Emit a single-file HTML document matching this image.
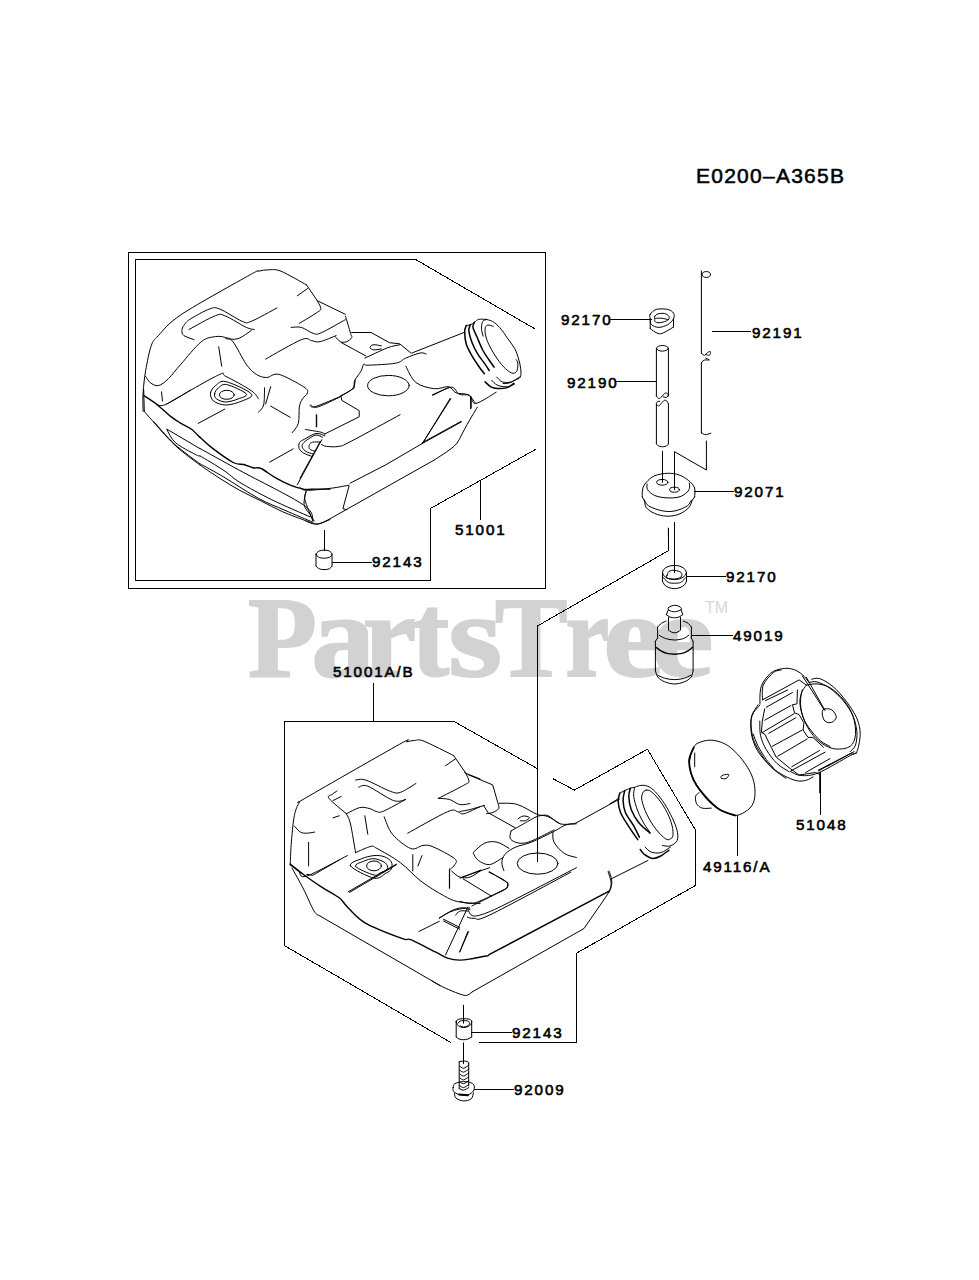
<!DOCTYPE html>
<html><head><meta charset="utf-8">
<style>
html,body{margin:0;padding:0;background:#fff;}
body{width:979px;height:1280px;position:relative;overflow:hidden;}
.wm{position:absolute;-webkit-text-stroke:2px #d2d2d2;font-family:"Liberation Serif",serif;font-weight:bold;color:#d2d2d2;font-size:113.5px;line-height:1;white-space:nowrap;}
.tm{position:absolute;font-family:"Liberation Sans",sans-serif;color:#d8d8d8;font-size:16px;line-height:1;}
svg{position:absolute;left:0;top:0;}
.lb{font-family:"Liberation Sans",sans-serif;font-size:15.2px;letter-spacing:1.85px;fill:#000;stroke:#000;stroke-width:0.6px;}
.ttl{font-family:"Liberation Sans",sans-serif;font-size:21px;letter-spacing:1.25px;fill:#000;stroke:#000;stroke-width:0.55px;}
</style></head><body>

<div class="wm" style="left:248.1px;top:581.8px;transform:scale(0.993,1.0);transform-origin:1.9px 95px">P</div>
<div class="wm" style="left:311.7px;top:581.8px;transform:scale(1.115,1.05);transform-origin:3.8px 95px">a</div>
<div class="wm" style="left:363.1px;top:581.8px;transform:scale(1.060,1.05);transform-origin:2.9px 95px">r</div>
<div class="wm" style="left:412.1px;top:581.8px;transform:scale(0.983,1.04);transform-origin:1.9px 95px">t</div>
<div class="wm" style="left:449.2px;top:581.8px;transform:scale(1.219,1.05);transform-origin:3.8px 95px">s</div>
<div class="wm" style="left:495.1px;top:581.8px;transform:scale(0.957,1.0);transform-origin:1.9px 95px">T</div>
<div class="wm" style="left:565.1px;top:581.8px;transform:scale(0.865,1.05);transform-origin:2.9px 95px">r</div>
<div class="wm" style="left:604.2px;top:581.8px;transform:scale(1.196,1.05);transform-origin:3.8px 95px">e</div>
<div class="wm" style="left:652.2px;top:581.8px;transform:scale(1.241,1.05);transform-origin:3.8px 95px">e</div>
<div class="tm" style="left:705px;top:600px;">TM</div>
<svg width="979" height="1280" viewBox="0 0 979 1280" fill="none" stroke="#000" stroke-width="1" stroke-linejoin="round" stroke-linecap="round">
<g id="labels" transform="translate(0 -0.5)">
<text class="ttl" x="696" y="183">E0200&#8211;A365B</text>
<text class="lb" x="561" y="325">92170</text>
<text class="lb" x="752" y="338">92191</text>
<text class="lb" x="567" y="388">92190</text>
<text class="lb" x="734" y="497">92071</text>
<text class="lb" x="726" y="582">92170</text>
<text class="lb" x="733" y="641.5">49019</text>
<text class="lb" x="796" y="830">51048</text>
<text class="lb" x="703" y="872">49116/A</text>
<text class="lb" x="455" y="535.5">51001</text>
<text class="lb" x="372" y="567.5">92143</text>
<text class="lb" x="333" y="677.5">51001A/B</text>
<text class="lb" x="512" y="1038">92143</text>
<text class="lb" x="514" y="1095.5">92009</text>
</g>
<g id="frames" shape-rendering="crispEdges">
<rect x="128.5" y="252.5" width="417" height="336"/>
<path d="M534.4 328.6 L415.3 259.3 L135.5 259.3 L135.5 580.5 L430.5 580.5 L430.5 508.5 L535.7 449.3"/>
<path d="M453.4 721.1 L284.3 721.1 L284.3 945.5 L450.3 1042.2"/>
<path d="M453.4 721.1 L537.3 768.6"/>
<path d="M553 778.7 L574.4 790.1 L647.4 749.2 L695.5 830.1 L695.5 885.4 L576.7 953.1 L576.7 1042.6 L479 1042.6"/>
<path d="M668.5 528.1 L668.5 550.6 L537.8 625.8 L537.8 861.6"/>
</g>
<g id="leaders" shape-rendering="crispEdges">
<path d="M610 319.3 H652"/>
<path d="M711.6 331 H751"/>
<path d="M615 381.6 H656.4"/>
<path d="M694.4 491.5 H734"/>
<path d="M686.5 576.2 H726"/>
<path d="M692.2 635.4 H732.7"/>
<path d="M820.7 772.6 V815"/>
<path d="M737.5 815.5 V856"/>
<path d="M480.4 480.4 V520"/>
<path d="M332 562.2 H372"/>
<path d="M373.6 683 V721.1"/>
<path d="M471.5 1032.5 H512"/>
<path d="M474 1089.8 H514"/>
<path d="M324 530.3 V551"/>
<path d="M674.2 522.9 V566"/>
</g>
<g id="draw">
<path d="M143.1 411.2 C143.1 408.1 142.6 399.6 143.1 392.8 C143.5 386.0 144.4 378.1 145.7 370.3 C147.1 362.5 149.1 351.6 151.2 345.8 C153.3 340.0 153.3 340.9 158.4 335.6 C163.5 330.3 166.6 324.3 181.9 314.1 C197.2 304.0 237.5 281.9 250.3 274.7 C263.1 267.6 255.4 272.1 258.5 271.2 C261.6 270.4 265.0 269.8 268.7 269.8 C272.4 269.8 274.7 268.7 281.0 271.2 C287.3 273.8 302.2 282.6 306.5 284.9"/>
<path d="M306.5 284.9 L316.7 299.8"/>
<path d="M316.7 299.8 C317.4 301.2 320.6 306.0 320.8 308.0 C321.0 310.1 321.3 309.5 317.7 312.1 C314.2 314.6 302.4 321.5 299.3 323.3"/>
<path d="M297.3 295.8 L307.5 288.6"/>
<path d="M317.7 300.9 L345.3 314.3"/>
<path d="M194.1 339.7 C192.4 339.0 186.0 337.1 183.9 335.6 C181.9 334.1 181.9 332.2 181.9 330.5 C181.9 328.8 182.6 327.2 183.9 325.4 C185.3 323.5 185.8 322.0 190.1 319.2 C194.3 316.5 204.5 310.7 209.5 309.0 C214.4 307.3 214.2 307.0 219.7 309.0 C225.1 311.1 236.9 319.2 242.1 321.3 C247.4 323.3 245.5 323.5 251.3 321.3 C257.1 319.1 272.6 310.2 276.9 308.0"/>
<path d="M189.0 329.5 C193.5 327.1 209.5 317.8 215.6 315.6 C221.7 313.4 220.7 314.2 225.8 316.2 C230.9 318.2 241.5 325.2 246.2 327.4 C251.0 329.6 253.0 329.1 254.4 329.5"/>
<path d="M225.8 338.7 C227.8 338.7 233.8 340.0 238.1 338.7 C242.3 337.3 249.1 331.8 251.3 330.5"/>
<path d="M145.7 376.4 C146.5 377.5 148.1 381.0 150.2 382.6 C152.3 384.1 155.3 386.3 158.4 385.6 C161.5 385.0 164.9 382.1 168.6 378.5 C172.3 374.9 175.4 370.3 180.9 364.2 C186.3 358.1 195.5 346.3 201.3 341.7 C207.1 337.1 211.5 337.3 215.6 336.6 C219.7 335.9 222.9 336.8 225.8 337.6 C228.7 338.5 229.5 337.3 233.0 341.7 C236.4 346.1 242.3 358.7 246.2 364.2 C250.1 369.6 253.0 372.2 256.4 374.4 C259.9 376.6 262.9 377.5 266.7 377.5 C270.4 377.5 272.8 372.9 278.9 374.4 C285.0 375.9 298.7 383.6 303.4 386.7 C308.2 389.7 307.7 390.7 307.5 392.8 C307.3 394.8 303.8 396.5 302.4 398.9 C301.0 401.3 300.0 403.0 299.3 407.1 C298.7 411.2 299.5 419.2 298.3 423.4 C297.1 427.7 293.2 431.1 292.2 432.6"/>
<path d="M218.7 346.8 L221.7 366.2"/>
<path d="M265.6 359.1 C271.6 355.8 293.7 342.7 301.4 339.7 C309.1 336.6 308.5 340.4 311.6 340.7 C314.7 341.0 315.7 342.6 319.8 341.7 C323.9 340.9 333.4 336.6 336.1 335.6"/>
<path d="M291.2 327.4 C292.9 327.4 297.6 326.4 301.4 327.4 C305.1 328.4 310.2 332.7 313.6 333.5 C317.1 334.4 316.5 334.8 321.8 332.5 C327.1 330.2 341.4 321.8 345.3 319.7"/>
<path d="M166.6 404.0 C175.1 399.3 207.8 380.0 217.6 375.4 C227.5 370.8 220.2 373.9 225.8 376.4 C231.4 379.0 245.9 387.0 251.3 390.7 C256.8 394.5 257.3 397.6 258.5 398.9"/>
<path d="M210.5 392.8 C210.8 390.2 213.0 387.5 215.6 385.6 C218.1 383.8 219.8 380.2 225.8 381.6 C231.8 382.9 248.6 390.6 251.3 393.8 C254.1 397.0 246.4 399.1 242.1 401.0 C237.9 402.8 230.6 405.0 225.8 405.0 C221.0 405.0 216.1 403.0 213.5 401.0 C211.0 398.9 210.1 395.3 210.5 392.8Z"/>
<path d="M214.6 393.8 C214.9 391.9 216.6 389.2 218.7 387.7 C220.7 386.1 222.2 383.6 226.8 384.6 C231.4 385.6 244.4 391.4 246.2 393.8 C248.1 396.2 241.5 397.6 238.1 398.9 C234.7 400.3 229.4 402.0 225.8 402.0 C222.2 402.0 218.5 400.3 216.6 398.9 C214.7 397.6 214.2 395.7 214.6 393.8Z"/>
<ellipse cx="226.8" cy="394.8" rx="7.4" ry="4.5" transform="rotate(0 226.8 394.8)"/>
<path d="M161.5 391.8 L162.5 401.0"/>
<path d="M198.2 423.4 L224.8 409.1"/>
<path d="M270.7 406.1 L290.2 417.3"/>
<path d="M264.6 387.7 C264.4 390.6 264.6 401.0 263.6 405.0 C262.6 409.1 259.3 411.0 258.5 412.2"/>
<path d="M270.7 386.7 L265.6 404.0"/>
<path d="M143.7 390.0 L144.3 411.5"/>
<path d="M144.3 411.5 C145.6 413.0 148.3 416.1 152.3 420.6 C156.2 425.1 163.5 433.5 168.2 438.4 C172.9 443.3 175.2 445.6 180.4 450.1 C185.7 454.5 196.7 462.6 199.9 465.1"/>
<path d="M143.7 395.5 C145.9 397.0 152.7 401.2 157.2 404.7 C161.7 408.2 166.8 413.3 170.6 416.4 C174.5 419.4 177.0 420.9 180.4 423.1 C183.9 425.2 188.2 426.9 191.5 429.2 C194.7 431.6 198.5 436.0 199.9 437.3" stroke-width="1.4"/>
<path d="M157.2 404.7 C158.6 404.7 160.1 406.9 165.7 404.5 C171.4 402.0 186.7 392.4 190.9 390.0"/>
<path d="M167.0 429.2 L199.9 448.6"/>
<path d="M167.0 429.8 C168.4 432.0 170.8 438.6 175.5 442.7 C180.2 446.8 191.1 452.1 195.2 454.4 C199.2 456.6 199.1 455.7 199.9 455.9"/>
<path d="M153.5 421.3 C157.0 425.0 166.6 436.8 174.3 443.9 C182.1 451.0 195.7 460.5 199.9 463.8"/>
<path d="M200.0 437.3 C202.0 439.0 206.4 443.7 212.0 447.9 C217.5 452.1 227.9 459.7 233.2 462.5 C238.5 465.3 240.5 463.6 243.8 464.5 C247.1 465.4 250.2 467.1 253.1 467.8 C256.0 468.5 257.5 466.9 261.1 468.5 C264.6 470.0 269.5 474.3 274.4 477.1 C279.2 479.9 285.4 483.1 290.3 485.1 C295.2 487.1 299.4 488.4 303.6 489.1 C307.8 489.7 311.1 489.1 315.5 489.1 C319.9 489.1 327.6 489.1 330.0 489.1" stroke-width="1.4"/>
<path d="M200.0 448.5 C206.6 452.2 222.6 461.1 239.8 470.5 C257.1 479.9 291.4 496.6 303.6 505.0 C315.7 513.4 311.3 518.3 312.9 520.9"/>
<path d="M200.0 455.9 C204.0 458.3 217.3 466.0 223.9 470.5 C230.5 474.9 231.9 477.5 239.8 482.4 C247.8 487.3 260.0 493.9 271.7 499.7 C283.4 505.4 303.8 514.1 310.2 516.9"/>
<path d="M200.0 463.8 C204.0 466.0 214.2 471.3 223.9 477.1 C233.6 482.9 248.2 492.8 258.4 498.3 C268.6 503.9 275.9 506.3 285.0 510.3 C294.1 514.3 308.2 520.3 312.9 522.2"/>
<path d="M200.0 465.1 C203.3 467.4 213.3 474.2 219.9 478.4 C226.6 482.6 233.0 486.6 239.8 490.4 C246.7 494.1 254.0 497.5 261.1 501.0 C268.2 504.5 274.8 508.3 282.3 511.6 C289.9 514.9 300.9 518.9 306.2 520.9 C311.5 522.9 312.0 523.1 314.2 523.6 C316.4 524.0 316.9 524.2 319.5 523.6 C322.1 522.9 328.3 520.3 330.0 519.6"/>
<path d="M306.2 491.7 C306.0 493.0 303.8 494.8 304.9 499.7 C306.0 504.5 311.5 517.4 312.9 520.9"/>
<path d="M305.5 429.5 C307.9 429.9 316.5 431.2 319.8 431.9 C323.0 432.7 324.0 433.6 324.9 434.0"/>
<path d="M316.7 415.2 L316.7 426.4"/>
<path d="M310.6 404.9 C311.8 405.3 312.8 408.3 317.7 407.0 C322.7 405.6 336.5 398.5 340.2 396.8"/>
<path d="M269.7 462.1 L293.2 448.9"/>
<path d="M321.8 439.7 L297.3 484.6"/>
<path d="M345.5 316.2 C346.4 319.1 349.6 330.0 350.6 333.5 C351.7 337.1 352.3 336.3 351.7 337.6 C351.0 339.0 348.4 341.0 346.6 341.7 C344.7 342.4 342.3 342.6 340.4 341.7 C338.6 340.9 336.2 337.5 335.3 336.6"/>
<path d="M341.5 342.7 L366.0 356.0"/>
<path d="M351.7 332.5 L371.1 332.5 L389.5 342.7 L399.7 343.8 L410.9 353.0"/>
<path d="M381.3 345.8 C379.9 345.6 375.0 344.4 373.1 344.8 C371.2 345.1 369.9 347.0 370.1 347.8 C370.2 348.7 372.3 349.7 374.1 349.9 C376.0 350.1 380.1 349.0 381.3 348.9"/>
<path d="M364.9 358.1 C368.7 356.4 381.6 350.1 387.4 347.8 C393.2 345.6 397.6 345.3 399.7 344.8"/>
<path d="M340.4 395.9 C342.5 394.7 350.3 391.3 352.7 388.7 C355.1 386.1 353.4 383.4 354.7 380.5 C356.1 377.6 359.3 374.1 360.9 371.3 C362.4 368.6 362.7 365.2 363.9 364.2 C365.1 363.2 362.7 365.4 368.0 365.2 C373.3 365.0 389.3 364.4 395.6 363.2 C401.9 362.0 401.7 359.8 405.8 358.1 C409.9 356.4 416.7 353.6 420.1 353.0 C423.5 352.3 425.2 353.8 426.2 354.0"/>
<path d="M411.9 353.0 L464.0 332.5"/>
<ellipse cx="388.4" cy="385.6" rx="20.8" ry="10.2" transform="rotate(0 388.4 385.6)"/>
<path d="M405.8 366.2 C407.5 369.0 411.2 378.8 416.0 382.6 C420.8 386.3 429.0 388.0 434.4 388.7 C439.9 389.4 445.1 386.0 448.7 386.7 C452.3 387.3 452.6 391.4 455.9 392.8 C459.1 394.2 464.9 393.1 468.1 394.8 C471.3 396.5 474.1 401.6 475.3 403.0"/>
<path d="M432.4 394.8 L448.7 387.7"/>
<path d="M471.2 396.9 L471.2 408.1"/>
<path d="M422.1 443.9 L450.7 398.9"/>
<path d="M422.1 442.8 L461.0 421.4"/>
<path d="M486.0 319.4 C487.0 319.7 490.2 320.1 492.5 321.4 C494.8 322.8 497.4 324.8 499.8 327.6 C502.3 330.3 504.7 334.3 507.2 337.8 C509.7 341.3 512.6 344.9 514.6 348.4 C516.5 351.9 517.6 355.6 518.6 359.0 C519.7 362.4 520.4 365.8 520.7 368.8 C521.0 371.8 521.3 375.1 520.3 377.0 C519.3 378.9 516.5 379.3 514.6 380.3 C512.6 381.3 510.7 382.6 508.8 383.1 C506.9 383.7 504.1 383.5 503.1 383.5"/>
<path d="M493.3 326.3 C492.4 326.1 489.0 324.7 487.6 325.1 C486.2 325.5 485.4 326.8 485.1 328.8 C484.9 330.8 485.1 334.0 486.0 337.0 C486.8 340.0 488.1 343.1 490.0 346.8 C491.9 350.4 494.8 355.4 497.4 359.0 C500.0 362.7 503.0 366.5 505.6 368.8 C508.2 371.2 511.0 373.1 512.9 373.3 C514.8 373.6 516.2 372.2 517.0 370.5 C517.8 368.8 518.0 364.9 517.8 363.1 C517.7 361.3 516.5 360.4 516.2 359.8"/>
<path d="M483.1 336.1 C482.8 334.9 481.5 331.2 481.5 328.8 C481.4 326.3 481.8 323.0 482.7 321.4 C483.6 319.9 486.1 319.7 486.8 319.4"/>
<path d="M466.3 325.5 C466.1 326.5 464.7 328.1 464.7 331.2 C464.7 334.4 465.0 340.0 466.3 344.3 C467.7 348.7 470.7 353.6 472.9 357.4 C475.1 361.2 477.5 364.5 479.4 367.2 C481.3 369.9 483.5 372.6 484.3 373.7" stroke-width="1.5"/>
<path d="M470.4 324.7 C470.2 325.7 468.5 327.4 468.8 330.4 C469.1 333.4 470.6 338.7 472.1 342.7 C473.6 346.6 475.7 350.7 477.8 354.1 C479.8 357.5 482.4 360.4 484.3 363.1 C486.2 365.8 488.4 369.2 489.2 370.5" stroke-width="1.5"/>
<path d="M474.5 322.3 C474.2 323.1 472.5 324.7 472.9 327.2 C473.3 329.6 475.3 333.2 477.0 337.0 C478.6 340.8 480.8 346.4 482.7 350.0 C484.6 353.7 486.5 356.2 488.4 359.0 C490.3 361.9 493.2 365.8 494.1 367.2" stroke-width="1.5"/>
<path d="M466.3 325.5 C467.0 325.4 469.1 325.3 470.4 324.7 C471.8 324.2 473.2 323.1 474.5 322.3 C475.9 321.4 476.7 319.9 478.6 319.4 C480.5 318.9 484.7 319.4 486.0 319.4"/>
<path d="M485.1 381.9 C486.1 382.7 488.8 385.7 490.9 386.8 C492.9 387.9 494.7 388.3 497.4 388.4 C500.1 388.6 504.5 388.4 507.2 387.6 C509.9 386.8 512.6 384.2 513.7 383.5" stroke-width="1.5"/>
<path d="M491.7 380.3 C492.6 381.1 494.8 384.1 497.4 385.2 C500.0 386.3 504.3 387.0 507.2 386.8 C510.1 386.6 513.3 384.4 514.6 384.0"/>
<path d="M496.6 377.0 C497.5 377.8 499.8 381.1 502.3 381.9 C504.7 382.7 508.4 382.7 511.3 381.9 C514.1 381.1 518.1 377.8 519.5 377.0"/>
<path d="M306.0 521.0 C307.0 521.4 309.9 523.0 312.0 523.5 C314.1 524.0 316.1 524.4 318.4 524.0 C320.7 523.6 324.7 521.5 326.0 521.0"/>
<path d="M326.0 521.0 L434.3 460.0"/>
<path d="M434.3 460.0 C435.7 459.1 440.3 456.1 442.9 454.4 C445.5 452.6 447.6 451.4 450.0 449.5 C452.4 447.6 455.2 445.6 457.2 443.0 C459.2 440.4 460.3 437.1 462.0 434.0 C463.7 430.9 465.5 427.4 467.2 424.4 C468.9 421.4 470.3 418.9 472.0 416.0 C473.7 413.1 476.4 408.7 477.3 407.2"/>
<path d="M300.0 487.3 C301.0 487.8 301.0 490.1 306.1 490.3 C311.2 490.5 323.5 489.1 330.6 488.3 C337.8 487.4 346.0 485.7 349.0 485.2"/>
<path d="M350.1 483.2 L385.8 464.8 L422.6 443.3 L461.4 421.9"/>
<path d="M349.0 486.2 L342.9 508.7 L347.0 509.7"/>
<path d="M306.1 491.3 C305.8 493.6 303.4 500.7 304.1 504.6 C304.8 508.5 308.5 512.1 310.2 514.8 C311.9 517.6 313.6 519.9 314.3 521.0"/>
<path d="M320.4 441.3 L300.0 478.1"/>
<path d="M321.5 444.4 C322.3 444.7 323.7 446.1 326.6 446.4 C329.5 446.7 334.7 447.2 338.8 446.4 C342.9 445.5 340.9 446.6 351.1 441.3 C361.3 436.0 391.9 419.2 400.1 414.7"/>
<path d="M324.5 434.1 L359.2 416.8 L359.2 410.6 L341.9 400.4 L340.9 396.3 L354.1 388.2 L355.2 380.0"/>
<path d="M310.2 405.5 C311.1 405.7 310.2 408.1 315.3 406.6 C320.4 405.0 336.6 398.0 340.9 396.3"/>
<path d="M316.3 414.7 L316.3 427.0"/>
<path d="M422.6 443.3 L450.2 398.4"/>
<path d="M432.8 395.3 C435.9 394.0 446.7 387.3 451.2 387.2 C455.6 387.0 456.3 392.9 459.3 394.3 C462.4 395.7 466.8 393.8 469.6 395.3 C472.3 396.9 471.3 404.0 475.7 403.5 C480.1 403.0 492.7 394.1 496.1 392.3"/>
<path d="M470.6 396.3 L470.6 408.6"/>
<path d="M316.0 554.2 C316.0 553.1 317.9 551.7 319.2 551.0 C320.5 550.3 322.3 550.2 324.0 550.2 C325.7 550.2 328.0 550.3 329.3 551.0 C330.6 551.7 332.0 553.1 332.0 554.2 C332.0 555.3 330.6 556.7 329.3 557.4 C328.0 558.0 325.7 558.2 324.0 558.2 C322.3 558.2 320.5 558.0 319.2 557.4 C317.9 556.7 316.0 555.3 316.0 554.2Z"/>
<path d="M316.0 554.2 L316.0 566.1"/>
<path d="M332.0 554.2 L332.0 566.1"/>
<path d="M316.0 566.1 C316.6 566.6 317.9 568.2 319.2 568.8 C320.5 569.4 322.3 569.6 324.0 569.6 C325.7 569.6 328.0 569.4 329.3 568.8 C330.6 568.2 331.5 566.6 332.0 566.1"/>
<path d="M324.9 435.9 C323.4 435.5 319.4 432.9 316.0 433.5 C312.6 434.0 307.2 437.7 304.5 439.2 C301.8 440.7 300.5 440.9 299.6 442.5 C298.7 444.0 298.5 446.8 299.2 448.6 C299.9 450.4 301.6 451.8 303.7 453.1 C305.8 454.4 310.5 455.8 311.9 456.4"/>
<path d="M322.5 437.2 C321.4 436.8 318.3 434.8 316.0 435.1 C313.6 435.4 310.8 437.4 308.6 438.8 C306.4 440.2 303.9 442.2 302.9 443.7 C301.9 445.2 301.9 446.5 302.5 447.8 C303.0 449.1 304.4 450.4 306.1 451.5 C307.9 452.5 311.6 453.5 312.7 453.9"/>
<path d="M320.0 442.1 C318.8 442.1 314.5 441.7 312.7 442.1 C310.9 442.5 310.0 443.4 309.4 444.5 C308.9 445.6 308.9 447.6 309.4 448.6 C310.0 449.6 311.7 450.2 312.7 450.6 C313.6 451.1 314.7 451.0 315.1 451.1"/>
<path d="M290.2 864.8 C290.4 861.4 290.6 852.6 291.2 844.4 C291.9 836.2 292.9 822.8 294.3 815.8 C295.7 808.8 297.4 805.6 299.4 802.5 C301.5 799.5 289.9 807.1 306.6 797.4 C323.2 787.7 382.8 753.6 399.5 744.3 C416.2 735.0 404.1 742.5 406.7 741.8 C409.2 741.2 411.9 740.5 414.8 740.4 C417.7 740.3 417.6 738.7 424.0 741.2 C430.5 743.8 448.7 753.2 453.6 755.5"/>
<path d="M453.6 755.5 L464.9 771.9"/>
<path d="M464.9 771.9 C465.6 773.4 469.1 778.9 469.0 781.1 C468.8 783.3 469.0 782.3 463.9 785.2 C458.8 788.1 442.6 796.2 438.3 798.4"/>
<path d="M464.9 772.9 L480.2 779.0"/>
<path d="M445.5 765.8 L455.7 758.6"/>
<path d="M337.2 790.9 C336.4 791.5 333.5 793.1 332.1 794.4 C330.7 795.6 326.6 795.2 329.0 798.4 C331.4 801.7 343.5 811.2 346.4 813.8"/>
<path d="M333.1 800.5 L341.3 796.4"/>
<path d="M355.6 780.1 C357.3 780.1 360.0 778.2 365.8 780.1 C371.6 781.9 384.5 789.2 390.3 791.3 C396.1 793.3 396.3 793.6 400.5 792.3 C404.8 791.0 413.3 785.0 415.9 783.5"/>
<path d="M358.7 787.2 C360.2 787.0 362.1 784.0 367.8 786.2 C373.6 788.4 387.1 798.3 393.4 800.5 C399.7 802.7 403.6 799.6 405.6 799.5"/>
<path d="M346.4 813.8 C348.6 812.7 355.8 808.5 359.7 807.6 C363.6 806.8 367.2 808.0 369.9 808.7 C372.6 809.3 373.8 810.9 376.0 811.3 C378.2 811.8 378.2 813.3 383.2 811.3 C388.1 809.3 401.9 801.4 405.6 799.5"/>
<path d="M333.1 817.8 L339.2 815.8"/>
<path d="M294.3 826.0 C295.3 827.0 298.4 831.0 300.4 832.1 C302.5 833.3 304.2 833.2 306.6 833.2 C308.9 833.2 313.4 832.3 314.7 832.1"/>
<path d="M308.6 842.4 L308.6 865.9"/>
<path d="M290.2 864.8 C291.6 865.9 295.7 869.1 298.4 871.0 C301.1 872.8 298.4 878.6 306.6 876.1 C314.7 873.5 340.6 859.0 347.4 855.6"/>
<path d="M346.4 813.8 C347.1 815.5 348.9 817.5 350.5 824.0 C352.0 830.4 354.7 847.8 355.6 852.6"/>
<path d="M355.6 852.6 C358.1 851.6 367.3 847.1 370.9 846.4 C374.5 845.8 372.1 845.8 377.0 848.5 C382.0 851.2 393.2 857.3 400.5 862.8 C407.9 868.2 413.8 875.7 421.0 881.2 C428.1 886.6 437.3 892.1 443.4 895.5 C449.6 898.9 451.6 900.2 457.7 901.6 C463.9 903.0 476.5 903.3 480.2 903.6"/>
<path d="M364.8 815.8 L367.8 834.2"/>
<path d="M384.2 816.8 C385.5 819.7 387.9 828.9 392.4 834.2 C396.8 839.5 405.6 846.6 410.7 848.5 C415.9 850.4 419.3 845.7 423.0 845.4 C426.7 845.2 427.9 844.6 433.2 846.9 C438.5 849.1 451.1 855.7 454.7 858.7 C458.2 861.7 455.3 863.1 454.7 864.8 C454.0 866.5 451.3 868.2 450.6 868.9"/>
<path d="M407.7 833.2 C414.3 829.6 439.2 815.3 447.5 811.7 C455.9 808.1 455.0 811.4 457.7 811.7 C460.5 812.1 460.1 814.6 463.9 813.8 C467.6 812.9 477.5 807.8 480.2 806.6"/>
<path d="M438.3 798.4 C440.2 798.6 446.0 798.4 449.6 799.5 C453.1 800.5 456.4 803.9 459.8 804.6 C463.2 805.2 468.3 803.7 470.0 803.5"/>
<path d="M350.5 865.9 C348.4 862.6 357.8 860.4 361.7 858.7 C365.6 857.0 370.2 856.0 374.0 855.6 C377.7 855.3 381.3 855.6 384.2 856.7 C387.1 857.7 390.1 859.7 391.3 861.8 C392.5 863.8 392.2 867.0 391.3 868.9 C390.5 870.8 389.1 871.5 386.2 873.0 C383.3 874.5 379.9 879.3 374.0 878.1 C368.0 876.9 352.5 869.1 350.5 865.9Z"/>
<path d="M355.6 866.5 C353.9 864.2 360.7 862.4 363.8 861.2 C366.8 859.9 370.4 858.4 374.0 858.7 C377.5 859.0 383.0 861.1 385.2 862.8 C387.4 864.5 388.1 867.2 387.3 868.9 C386.4 870.6 382.3 872.0 380.1 873.0 C377.9 874.0 378.1 876.1 374.0 875.0 C369.9 874.0 357.3 868.8 355.6 866.5Z"/>
<ellipse cx="374.0" cy="865.9" rx="7.4" ry="4.9" transform="rotate(0 374.0 865.9)"/>
<path d="M349.5 892.4 L396.4 864.8"/>
<path d="M412.8 854.6 L412.8 871.0"/>
<path d="M422.0 855.6 L417.9 865.9"/>
<path d="M449.6 868.9 L449.6 888.3"/>
<path d="M451.6 871.0 C453.0 872.0 456.7 876.1 459.8 877.1 C462.8 878.1 466.6 878.1 470.0 877.1 C473.4 876.1 478.5 872.0 480.2 871.0"/>
<path d="M439.3 917.9 C441.7 916.6 449.6 911.5 453.6 909.8 C457.7 908.1 461.1 907.7 463.9 907.7 C466.6 907.7 469.0 909.4 470.0 909.8"/>
<path d="M443.4 921.0 L459.8 929.2"/>
<path d="M468.2 774.7 L492.7 784.9 L497.4 801.3"/>
<path d="M497.4 801.3 C497.6 802.5 499.6 806.6 498.8 808.4 C498.0 810.3 494.7 811.7 492.7 812.5 C490.6 813.4 487.6 813.4 486.6 813.5"/>
<path d="M483.5 805.4 L488.6 813.5"/>
<path d="M460.0 811.5 C461.7 811.2 466.1 810.5 470.2 809.5 C474.3 808.4 482.1 806.1 484.5 805.4"/>
<path d="M489.6 813.5 L515.2 827.8"/>
<path d="M498.8 803.3 C501.9 803.5 510.7 802.5 517.2 804.4 C523.7 806.2 532.5 812.7 537.6 814.6 C542.7 816.4 544.1 814.1 547.8 815.6 C551.6 817.1 555.7 822.4 560.1 823.8 C564.5 825.1 572.0 823.8 574.4 823.8"/>
<path d="M518.2 818.7 C519.1 818.2 521.5 816.2 523.3 816.0 C525.2 815.8 529.1 816.8 529.5 817.6 C529.8 818.4 526.9 820.2 525.4 820.7 C523.8 821.2 521.1 820.7 520.3 820.7"/>
<path d="M511.1 830.9 C513.8 829.4 522.8 824.2 527.4 821.7 C532.0 819.2 535.2 816.8 538.7 816.0 C542.1 815.1 544.3 815.3 547.8 816.6 C551.4 817.9 558.1 822.6 560.1 823.8"/>
<path d="M511.1 830.9 C510.9 832.1 509.4 836.2 510.1 838.1 C510.7 839.9 512.9 841.3 515.2 842.1 C517.4 843.0 520.3 843.5 523.3 843.2 C526.4 842.8 528.4 842.3 533.5 840.1 C538.7 837.9 550.6 831.6 554.0 829.9"/>
<path d="M473.3 852.4 C475.2 850.8 480.6 844.9 484.5 843.2 C488.4 841.5 492.7 841.3 496.8 842.1 C500.9 843.0 507.0 847.3 509.0 848.3"/>
<path d="M473.3 853.4 C474.1 854.6 475.7 858.7 478.4 860.5 C481.1 862.4 485.5 865.1 489.6 864.6 C493.7 864.1 500.7 858.7 502.9 857.5"/>
<ellipse cx="537.6" cy="863.6" rx="20.4" ry="10.6" transform="rotate(0 537.6 863.6)"/>
<path d="M503.9 870.7 C503.6 869.4 501.7 865.3 501.9 862.6 C502.0 859.9 502.7 857.0 504.9 854.4 C507.2 851.8 510.7 849.3 515.2 847.3 C519.6 845.2 525.2 844.7 531.5 842.1 C537.8 839.6 547.2 834.8 553.0 831.9 C558.7 829.0 562.3 826.1 566.2 824.8 C570.1 823.4 574.7 823.9 576.4 823.8"/>
<path d="M553.0 831.9 C553.1 833.6 552.1 838.6 554.0 842.1 C555.8 845.7 560.4 850.8 564.2 853.4 C567.9 855.9 574.4 856.8 576.4 857.5"/>
<path d="M574.4 823.8 L619.3 799.2"/>
<path d="M611.2 878.9 L647.9 860.5"/>
<path d="M576.4 867.7 C565.5 873.3 526.4 893.7 511.1 901.4 C495.8 909.1 491.0 911.3 484.5 913.6 C478.0 916.0 475.0 916.4 472.3 915.7 C469.5 915.0 468.9 910.6 468.2 909.6"/>
<path d="M608.1 871.8 C608.6 873.6 611.0 879.6 611.2 883.0 C611.3 886.4 609.5 890.7 609.1 892.2"/>
<path d="M609.1 891.2 L489.0 954.7" stroke-width="1.5"/>
<path d="M460.0 877.9 L489.6 867.7"/>
<path d="M489.6 871.8 L508.0 883.0 L507.0 888.1 L488.6 897.3"/>
<path d="M463.1 878.9 L491.7 896.3"/>
<path d="M460.0 901.4 C462.0 901.7 467.5 904.1 472.3 903.4 C477.0 902.8 485.9 898.3 488.6 897.3"/>
<path d="M634.5 787.4 C635.3 787.1 637.5 786.0 639.4 785.7 C641.3 785.4 643.6 785.0 646.0 785.7 C648.3 786.4 650.6 787.4 653.3 789.8 C656.0 792.3 659.4 796.3 662.3 800.4 C665.2 804.5 668.2 809.8 670.5 814.3 C672.8 818.8 675.0 823.6 676.2 827.4 C677.4 831.2 678.0 834.6 677.8 837.2 C677.7 839.8 676.9 841.4 675.4 842.9 C673.9 844.4 671.0 845.8 668.8 846.2 C666.7 846.6 663.4 845.5 662.3 845.4"/>
<path d="M646.0 790.2 C647.3 789.9 648.7 789.9 650.9 791.4 C653.0 793.0 656.3 796.1 659.0 799.6 C661.8 803.2 665.0 808.3 667.2 812.7 C669.4 817.0 671.2 821.9 672.1 825.8 C673.1 829.6 673.2 833.4 672.9 835.6 C672.6 837.7 671.7 838.3 670.5 838.8 C669.2 839.4 668.0 840.5 665.6 838.8 C663.1 837.2 658.9 833.1 655.8 829.0 C652.6 824.9 649.1 819.1 646.8 814.3 C644.5 809.6 642.6 804.0 641.9 800.4 C641.2 796.9 642.0 794.8 642.7 793.1 C643.4 791.4 644.6 790.5 646.0 790.2Z"/>
<path d="M619.8 793.1 C619.5 794.4 618.0 798.0 618.2 801.2 C618.3 804.5 618.9 808.5 620.6 812.7 C622.4 816.9 625.9 822.1 628.8 826.6 C631.7 831.1 636.3 837.5 637.8 839.7" stroke-width="1.5"/>
<path d="M624.7 790.6 C624.4 792.3 622.9 796.8 623.1 800.4 C623.2 804.1 623.8 808.5 625.5 812.7 C627.3 816.9 631.4 821.7 633.7 825.8 C636.0 829.8 638.5 835.3 639.4 837.2" stroke-width="1.5"/>
<path d="M630.4 788.2 C630.2 789.5 628.7 792.8 628.8 796.3 C628.9 799.9 629.6 805.1 631.2 809.4 C632.9 813.8 635.5 818.5 638.6 822.5 C641.7 826.4 648.1 831.3 650.0 833.1" stroke-width="1.5"/>
<path d="M634.5 788.2 C634.4 789.5 633.2 792.5 633.7 796.3 C634.2 800.2 636.0 806.4 637.8 811.1 C639.6 815.7 642.3 820.6 644.3 824.1 C646.4 827.7 649.1 830.9 650.0 832.3"/>
<path d="M619.8 793.1 C620.6 792.7 622.9 791.4 624.7 790.6 C626.5 789.8 628.8 788.7 630.4 788.2 C632.1 787.6 633.8 787.5 634.5 787.4"/>
<path d="M640.2 849.5 C640.9 850.3 642.3 852.9 644.3 854.4 C646.4 855.9 649.8 858.2 652.5 858.4 C655.2 858.7 657.9 857.4 660.7 856.0 C663.4 854.6 667.5 851.2 668.8 850.3" stroke-width="1.5"/>
<path d="M645.1 847.0 C646.1 847.8 648.3 851.0 650.9 851.9 C653.4 852.9 657.4 853.5 660.7 852.7 C663.9 851.9 668.8 848.0 670.5 847.0"/>
<path d="M610.0 803.7 L618.2 798.8"/>
<path d="M290.2 864.1 C292.6 866.0 299.4 871.6 304.5 875.3 C309.6 879.1 315.1 882.8 320.9 886.6 C326.6 890.3 334.8 894.4 339.2 897.8 C343.7 901.2 343.0 902.7 347.4 907.0 C351.8 911.2 356.6 918.1 365.8 923.3 C375.0 928.6 395.1 935.9 402.6 938.7 C410.1 941.4 405.3 937.5 410.7 939.7 C416.2 941.9 429.1 948.9 435.3 951.9 C441.4 955.0 443.4 956.7 447.5 958.1 C451.6 959.4 455.5 960.0 459.8 960.1 C464.0 960.2 468.3 959.2 473.1 958.5 C477.8 957.7 485.8 956.1 488.4 955.6" stroke-width="1.4"/>
<path d="M306.6 874.3 L312.7 875.3 L339.2 860.0"/>
<path d="M348.4 891.7 L396.4 864.1"/>
<path d="M439.3 918.2 C441.0 917.2 446.2 913.6 449.6 912.1 C453.0 910.6 456.4 909.7 459.8 909.0 C463.2 908.3 468.3 908.2 470.0 908.0"/>
<path d="M443.4 919.2 L459.8 927.4"/>
<path d="M455.7 915.2 C456.4 914.5 457.7 911.8 459.8 911.1 C461.8 910.4 466.6 911.1 467.9 911.1"/>
<path d="M418.9 931.5 L439.3 921.3"/>
<path d="M467.9 907.0 L445.5 955.0"/>
<path d="M467.9 931.5 L459.8 951.9"/>
<path d="M467.4 917.2 C468.5 917.4 470.4 918.7 474.2 918.3 C477.9 917.9 473.8 922.6 489.9 914.9 C506.0 907.3 557.3 879.4 570.8 872.2"/>
<path d="M488.8 872.2 C491.6 873.7 502.6 878.6 505.6 881.2 C508.6 883.9 509.0 885.5 506.7 888.0 C504.5 890.4 497.9 892.8 492.1 895.8 C486.3 898.8 475.3 904.3 471.9 906.0"/>
<path d="M460.7 877.9 L480.9 870.0"/>
<path d="M449.4 870.0 L449.4 888.0"/>
<path d="M468.5 931.8 L459.6 952.0"/>
<path d="M292.0 868.0 C293.9 871.5 299.8 881.8 303.5 889.0 C307.2 896.2 311.2 906.5 314.0 911.0 C316.8 915.5 319.0 915.2 320.0 916.0"/>
<path d="M320.0 916.0 L440.0 985.5"/>
<path d="M432.0 981.0 C433.3 981.8 436.7 983.8 440.0 985.5 C443.3 987.2 447.8 989.3 452.0 991.0 C456.2 992.7 462.2 995.3 465.5 995.5 C468.8 995.7 470.9 992.6 472.0 992.0"/>
<path d="M472.0 992.0 L584.0 928.5 L603.7 900.0"/>
<path d="M603.7 900.0 C604.8 898.2 609.2 892.3 610.5 889.0 C611.8 885.7 612.0 883.0 611.7 880.0 C611.5 877.0 609.5 872.5 609.0 871.0"/>
<path d="M456.2 1021.5 C456.2 1020.4 457.1 1019.8 458.3 1019.3 C459.6 1018.9 461.6 1018.7 463.5 1018.7 C465.4 1018.7 468.1 1018.9 469.5 1019.3 C470.9 1019.8 471.7 1020.4 471.7 1021.5 C471.7 1022.5 470.9 1024.8 469.5 1025.8 C468.1 1026.8 465.4 1027.5 463.5 1027.5 C461.6 1027.5 459.6 1026.8 458.3 1025.8 C457.1 1024.8 456.2 1022.5 456.2 1021.5Z"/>
<path d="M458.3 1023.2 C458.6 1022.8 459.2 1021.5 460.1 1021.0 C460.9 1020.6 462.2 1020.6 463.5 1020.6 C464.8 1020.6 466.8 1020.6 467.8 1021.0 C468.8 1021.5 469.5 1022.4 469.5 1023.2 C469.5 1024.0 468.8 1025.1 467.8 1025.8 C466.8 1026.4 464.8 1027.1 463.5 1027.1 C462.2 1027.1 460.6 1026.0 460.1 1025.8"/>
<path d="M456.2 1021.5 L456.2 1036.9"/>
<path d="M471.7 1021.5 L471.7 1036.9"/>
<path d="M456.2 1036.9 C456.7 1037.3 458.0 1038.6 459.2 1039.1 C460.4 1039.5 462.1 1039.7 463.5 1039.7 C464.9 1039.7 466.4 1039.5 467.8 1039.1 C469.2 1038.6 471.0 1037.3 471.7 1036.9"/>
<path d="M463.5 1005.2 L463.5 1023.2"/>
<path d="M463.5 1042.9 L463.5 1063.6"/>
<path d="M459.2 1061.8 L459.2 1088.5"/>
<path d="M468.7 1063.1 L468.7 1085.9"/>
<path d="M459.2 1061.8 C459.9 1061.7 462.1 1061.0 463.5 1061.0 C464.9 1061.0 466.9 1061.3 467.8 1061.8 C468.7 1062.3 468.5 1063.6 468.7 1064.0"/>
<path d="M459.6 1066.1 C460.3 1066.5 462.0 1068.4 463.5 1068.3 C465.0 1068.1 467.8 1065.8 468.7 1065.3"/>
<path d="M459.6 1070.0 C460.3 1070.4 462.0 1072.3 463.5 1072.1 C465.0 1072.0 467.8 1069.6 468.7 1069.1"/>
<path d="M459.6 1073.9 C460.3 1074.2 462.0 1076.2 463.5 1076.0 C465.0 1075.9 467.8 1073.5 468.7 1073.0"/>
<path d="M459.6 1077.7 C460.3 1078.1 462.0 1080.0 463.5 1079.9 C465.0 1079.7 467.8 1077.4 468.7 1076.9"/>
<path d="M459.6 1081.6 C460.3 1082.0 462.0 1083.9 463.5 1083.7 C465.0 1083.6 467.8 1081.2 468.7 1080.7"/>
<path d="M459.6 1085.5 C460.3 1085.8 462.0 1087.8 463.5 1087.6 C465.0 1087.5 467.8 1085.1 468.7 1084.6"/>
<path d="M459.2 1088.5 C459.9 1088.8 461.9 1090.3 463.5 1090.2 C465.1 1090.0 467.8 1088.0 468.7 1087.6"/>
<path d="M453.2 1087.6 C453.4 1086.3 453.2 1084.7 454.9 1083.7 C456.6 1082.7 460.8 1081.7 463.5 1081.6 C466.2 1081.5 469.4 1082.2 471.2 1082.9 C473.0 1083.6 473.9 1084.5 474.2 1085.9 C474.6 1087.2 474.4 1089.5 473.4 1091.0 C472.3 1092.5 470.2 1094.3 467.8 1094.9 C465.4 1095.5 461.6 1095.1 459.2 1094.5 C456.8 1093.9 454.6 1092.6 453.6 1091.5 C452.6 1090.3 453.0 1088.9 453.2 1087.6Z"/>
<path d="M454.5 1092.8 C454.7 1093.6 454.3 1096.6 455.8 1097.9 C457.3 1099.3 460.9 1100.8 463.5 1100.9 C466.1 1101.1 469.6 1100.1 471.2 1098.8 C472.9 1097.4 473.0 1093.8 473.4 1092.8"/>
<path d="M459.2 1094.5 L467.8 1095.3" stroke-width="2"/>
<path d="M650.2 314.3 C651.2 312.8 653.4 310.3 656.3 309.4 C659.3 308.6 664.9 308.8 667.8 309.4 C670.6 310.1 672.6 311.5 673.5 313.1 C674.5 314.7 674.5 316.9 673.5 318.8 C672.6 320.7 670.2 323.1 667.8 324.6 C665.3 326.0 661.5 327.4 658.8 327.4 C656.1 327.4 652.9 326.0 651.4 324.6 C650.0 323.1 650.4 320.5 650.2 318.8 C650.0 317.1 649.2 315.9 650.2 314.3Z"/>
<path d="M654.7 316.4 C655.3 315.6 656.3 314.4 658.0 313.9 C659.6 313.5 662.7 313.1 664.5 313.5 C666.4 313.9 668.5 315.3 669.0 316.4 C669.6 317.5 669.1 319.0 667.8 320.1 C666.5 321.1 663.3 322.2 661.2 322.5 C659.2 322.9 656.6 322.7 655.5 322.1 C654.4 321.5 654.8 319.8 654.7 318.8 C654.6 317.9 654.2 317.2 654.7 316.4Z"/>
<path d="M655.5 318.4 C656.5 318.4 659.1 318.0 661.2 318.2 C663.4 318.4 667.4 319.4 668.6 319.7"/>
<path d="M650.2 318.8 L650.2 328.6"/>
<path d="M673.5 318.8 L673.5 327.0"/>
<path d="M650.2 328.6 C651.5 329.5 655.7 332.9 658.0 333.5 C660.2 334.2 661.1 333.8 663.7 332.7 C666.3 331.6 671.9 328.0 673.5 327.0"/>
<ellipse cx="706.4" cy="274.5" rx="4.1" ry="2.9" transform="rotate(0 706.4 274.5)"/>
<path d="M701.4 271.0 L701.4 353.4"/>
<path d="M701.4 353.4 C702.0 353.8 703.7 355.5 704.7 355.3 C705.7 355.2 706.6 353.1 707.5 352.5 C708.5 351.9 710.0 351.1 710.3 351.6 C710.7 352.0 710.2 354.9 709.4 355.3 C708.6 355.8 706.3 354.5 705.7 354.4"/>
<path d="M705.7 358.1 C706.3 358.4 709.6 359.7 709.4 360.0 C709.2 360.3 706.0 359.7 704.7 360.0 C703.5 360.3 702.4 361.3 701.9 361.9 C701.4 362.5 701.5 363.5 701.4 363.8"/>
<path d="M701.4 363.8 L701.4 433.2"/>
<path d="M701.4 432.2 C701.7 432.5 702.4 433.7 703.3 434.1 C704.2 434.5 705.3 434.7 706.6 434.6 C707.8 434.4 710.1 433.4 710.8 433.2"/>
<path d="M656.4 348.3 L656.4 396.1"/>
<path d="M668.4 348.3 L668.4 396.1"/>
<ellipse cx="662.5" cy="348.3" rx="5.9" ry="2.8" transform="rotate(0 662.5 348.3)"/>
<path d="M656.4 396.1 C656.8 396.5 657.9 398.4 658.8 398.5 C659.6 398.6 660.8 397.4 661.6 396.8 C662.4 396.2 662.8 395.3 663.4 394.7 C664.1 394.1 664.6 393.2 665.3 393.0 C666.0 392.9 667.2 393.3 667.7 393.8 C668.1 394.2 668.4 395.0 668.1 395.7 C667.9 396.3 667.0 397.3 666.3 397.5 C665.5 397.7 663.9 396.9 663.4 396.8"/>
<path d="M659.7 401.3 C659.3 401.4 657.9 401.3 657.4 401.7 C656.8 402.2 656.2 403.4 656.4 404.1 C656.6 404.8 657.9 406.1 658.8 406.0 C659.6 405.8 660.6 404.1 661.6 403.2 C662.5 402.2 663.4 400.7 664.4 400.3 C665.3 400.0 666.5 400.7 667.2 401.3 C667.9 401.9 668.2 403.6 668.4 404.1"/>
<path d="M656.4 404.1 L656.4 443.5"/>
<path d="M668.4 404.1 L668.4 443.5"/>
<path d="M656.4 443.5 C656.6 443.8 656.8 445.0 657.8 445.5 C658.8 446.1 660.9 446.8 662.5 446.8 C664.1 446.8 666.2 446.1 667.2 445.5 C668.2 445.0 668.2 443.8 668.4 443.5"/>
<path d="M642.3 497.0 C642.3 495.6 642.0 491.3 642.7 488.8 C643.3 486.4 644.4 484.5 646.3 482.3 C648.3 480.1 651.0 477.3 654.5 475.8 C658.1 474.3 663.5 473.4 667.6 473.3 C671.7 473.2 675.5 473.7 679.0 474.9 C682.6 476.2 686.2 478.5 688.8 480.7 C691.4 482.8 693.6 485.3 694.6 488.0 C695.5 490.7 694.6 495.5 694.6 497.0"/>
<path d="M647.2 483.9 C647.2 484.9 646.3 487.7 647.6 489.7 C648.8 491.6 651.5 494.0 654.5 495.4 C657.6 496.7 661.9 497.6 666.0 497.8 C670.0 498.1 675.5 498.0 679.0 497.0 C682.6 496.1 685.4 493.7 687.2 492.1 C689.0 490.5 689.3 488.7 689.7 487.2 C690.0 485.7 689.3 483.8 689.2 483.1"/>
<path d="M643.9 499.5 C644.7 500.5 645.7 504.1 648.8 506.0 C651.9 507.9 658.3 510.1 662.7 510.9 C667.0 511.7 670.9 511.7 674.9 510.9 C679.0 510.1 684.5 507.8 687.2 506.0 C689.9 504.2 690.6 501.2 691.3 500.3"/>
<path d="M644.7 501.1 C645.0 502.2 644.7 505.6 646.3 507.6 C648.0 509.7 651.1 511.9 654.5 513.4 C657.9 514.8 662.7 516.1 666.8 516.2 C670.9 516.3 675.4 515.6 679.0 514.2 C682.7 512.7 686.7 509.9 688.8 507.6 C691.0 505.3 691.6 501.5 692.1 500.3"/>
<path d="M642.3 497.0 L644.7 501.1"/>
<path d="M694.6 497.0 L692.1 500.3"/>
<ellipse cx="662.3" cy="482.3" rx="5.7" ry="2.9" transform="rotate(0 662.3 482.3)"/>
<ellipse cx="674.5" cy="489.7" rx="4.9" ry="2.5" transform="rotate(0 674.5 489.7)"/>
<path d="M662.5 451.2 L662.5 482.3"/>
<path d="M674.5 489.7 L674.5 451.7 L706.4 470.0 L706.4 441.0"/>
<path d="M674.5 523.2 L674.5 536.2"/>
<path d="M668.4 528.1 L668.4 536.2"/>
<ellipse cx="674.5" cy="572.5" rx="12.0" ry="7.1" transform="rotate(0 674.5 572.5)"/>
<path d="M666.9 575.8 C667.2 574.7 667.8 572.3 669.0 571.4 C670.3 570.5 672.5 570.1 674.5 570.3 C676.5 570.5 680.0 571.4 681.1 572.5 C682.2 573.6 682.2 575.8 681.1 576.9 C680.0 578.0 676.9 578.9 674.5 579.0 C672.1 579.2 668.1 578.5 666.9 578.0 C665.6 577.4 666.5 576.9 666.9 575.8Z"/>
<path d="M662.5 572.5 L662.5 581.2"/>
<path d="M686.5 572.5 L686.5 581.2"/>
<path d="M662.5 581.2 C662.9 581.9 663.6 584.0 664.7 585.1 C665.8 586.1 667.4 587.0 669.0 587.6 C670.7 588.2 672.7 588.7 674.5 588.7 C676.3 588.7 678.3 588.2 680.0 587.6 C681.6 587.0 683.3 586.1 684.3 585.1 C685.4 584.0 686.2 581.9 686.5 581.2"/>
<path d="M674.5 553.9 L674.5 572.5"/>
<path d="M662.7 576.9 C663.6 577.8 666.3 581.3 668.3 582.3 C670.2 583.4 672.4 583.2 674.5 583.2 C676.6 583.2 679.0 583.3 680.8 582.3 C682.7 581.4 685.0 578.3 685.9 577.5"/>
<path d="M668.5 607.5 C669.4 606.6 672.6 605.4 674.5 605.3 C676.4 605.2 678.9 606.2 680.0 606.9 C681.1 607.6 682.0 608.8 681.1 609.6 C680.2 610.5 676.5 611.7 674.5 611.8 C672.5 611.9 670.0 610.9 669.0 610.2 C668.0 609.5 667.6 608.3 668.5 607.5Z"/>
<path d="M668.5 609.6 L666.3 614.6"/>
<path d="M681.1 609.6 L682.7 614.6"/>
<path d="M666.3 614.6 C666.9 615.0 668.8 616.5 670.1 617.1 C671.5 617.6 673.1 617.8 674.5 617.8 C676.0 617.8 677.5 617.6 678.9 617.1 C680.2 616.5 682.1 615.0 682.7 614.6"/>
<path d="M668.5 617.3 L668.5 629.9"/>
<path d="M680.5 617.3 L680.5 629.9"/>
<path d="M668.5 629.9 C669.0 630.2 670.2 631.6 671.2 632.0 C672.2 632.5 673.4 632.8 674.5 632.8 C675.6 632.8 676.8 632.5 677.8 632.0 C678.8 631.6 680.1 630.2 680.5 629.9"/>
<path d="M657.6 627.1 C658.2 626.5 659.9 624.3 661.4 623.3 C662.9 622.3 665.5 621.5 666.3 621.1"/>
<path d="M683.3 621.1 C684.1 621.5 686.8 622.3 688.2 623.3 C689.5 624.3 690.9 626.5 691.4 627.1"/>
<path d="M657.6 627.1 L657.6 638.1"/>
<path d="M691.4 627.1 L691.4 638.1"/>
<path d="M659.2 635.3 C660.3 635.9 663.2 637.8 665.8 638.6 C668.3 639.4 671.6 640.0 674.5 640.0 C677.4 640.0 680.9 639.4 683.3 638.6 C685.6 637.8 687.8 635.9 688.7 635.3"/>
<path d="M657.6 638.1 L655.4 641.3"/>
<path d="M691.4 638.1 L693.1 641.3"/>
<path d="M655.4 641.3 L655.4 670.8"/>
<path d="M693.1 641.3 L693.1 670.8"/>
<path d="M655.9 647.3 C656.8 648.0 659.6 650.2 661.4 651.2 C663.2 652.2 664.7 652.9 666.9 653.4 C669.0 653.9 672.0 654.2 674.5 654.2 C677.1 654.2 680.0 653.9 682.2 653.4 C684.3 652.9 685.9 652.2 687.6 651.2 C689.4 650.2 691.7 648.0 692.5 647.3" stroke-width="1.4"/>
<path d="M655.4 670.8 C655.8 671.9 656.6 675.6 658.1 677.4 C659.7 679.2 661.9 680.7 664.7 681.8 C667.4 682.9 671.2 684.0 674.5 684.0 C677.8 684.0 681.6 682.9 684.3 681.8 C687.1 680.7 689.4 679.2 690.9 677.4 C692.4 675.6 692.7 671.9 693.1 670.8"/>
<path d="M657.6 675.2 C658.9 675.8 662.9 677.8 665.8 678.5 C668.6 679.2 671.6 679.6 674.5 679.6 C677.4 679.6 680.5 679.2 683.3 678.5 C686.0 677.8 689.6 675.8 690.9 675.2"/>
<path d="M759.9 703.8 C760.1 700.9 759.5 691.6 761.2 686.6 C763.0 681.5 767.0 676.3 770.5 673.3 C774.1 670.3 778.7 669.3 782.5 668.6 C786.3 668.0 789.8 668.3 793.1 669.3 C796.4 670.3 799.8 672.4 802.4 674.6 C805.1 676.8 807.9 681.2 809.1 682.6"/>
<path d="M762.6 699.8 C762.7 697.4 761.5 689.8 763.2 685.2 C765.0 680.7 770.2 675.2 773.2 672.6 C776.2 670.1 779.8 670.4 781.2 670.0"/>
<path d="M802.4 675.9 L823.7 709.1"/>
<path d="M806.4 677.3 L825.0 710.5"/>
<path d="M823.7 709.1 C825.2 708.4 829.5 708.5 831.6 709.8 C833.7 711.1 836.3 715.0 836.3 717.1 C836.3 719.2 833.5 721.7 831.6 722.4 C829.7 723.1 826.5 722.4 825.0 721.1 C823.4 719.8 822.6 716.4 822.3 714.4 C822.1 712.5 822.1 709.9 823.7 709.1Z"/>
<path d="M811.7 679.3 C813.0 679.1 816.1 677.4 819.7 678.6 C823.2 679.8 828.5 682.8 833.0 686.6 C837.4 690.3 842.2 695.9 846.2 701.2 C850.2 706.5 854.5 712.9 856.9 718.4 C859.2 724.0 860.2 728.8 860.2 734.4 C860.2 739.9 858.3 748.3 856.9 751.6 C855.4 754.9 852.4 753.8 851.5 754.3"/>
<path d="M809.1 682.6 C810.4 682.5 813.5 680.9 817.0 681.9 C820.6 682.9 825.9 685.3 830.3 688.5 C834.7 691.8 839.8 696.6 843.6 701.2 C847.3 705.7 850.7 710.7 852.9 715.8 C855.1 720.9 856.4 726.8 856.9 731.7 C857.3 736.6 856.6 741.7 855.5 745.0 C854.4 748.3 851.1 750.5 850.2 751.6"/>
<path d="M759.9 705.1 C758.6 706.9 753.4 711.1 752.0 715.8 C750.5 720.4 750.4 727.3 751.3 733.0 C752.2 738.8 754.1 744.8 757.3 750.3 C760.5 755.8 766.1 762.0 770.5 766.2 C775.0 770.4 779.4 773.1 783.8 775.5 C788.2 778.0 793.3 780.1 797.1 780.8 C800.9 781.6 803.7 780.8 806.4 780.2 C809.1 779.5 811.9 777.4 813.0 776.9"/>
<path d="M762.6 699.8 L799.1 679.9 L806.4 685.2"/>
<path d="M819.7 772.9 L819.7 792.8"/>
<path d="M806.4 685.2 C805.5 686.8 801.9 689.9 801.1 694.5 C800.3 699.2 800.2 706.9 801.7 713.1 C803.3 719.3 806.9 726.6 810.4 731.7 C813.8 736.8 818.1 740.8 822.3 743.7 C826.5 746.5 831.0 748.5 835.6 749.0 C840.3 749.4 846.9 748.7 850.2 746.3 C853.5 743.9 855.1 739.5 855.5 734.4 C856.0 729.3 854.9 721.5 852.9 715.8 C850.9 710.0 847.3 704.5 843.6 699.8 C839.8 695.2 834.7 690.5 830.3 687.9 C825.9 685.2 821.0 684.3 817.0 683.9 C813.0 683.5 808.2 685.0 806.4 685.2"/>
<path d="M790.5 771.5 C792.2 772.2 796.4 775.3 801.1 775.5 C805.7 775.7 810.2 776.2 818.3 772.9 C826.5 769.6 843.8 758.9 850.2 755.6 C856.6 752.3 855.7 753.4 856.9 753.0"/>
<path d="M818.3 770.2 L851.5 753.0"/>
<path d="M827.6 766.2 L854.2 751.6"/>
<path d="M765.5 700.6 L787.6 690.0"/>
<path d="M766.3 707.2 L792.5 692.5"/>
<path d="M764.7 720.2 L790.9 705.5"/>
<path d="M762.3 732.5 L794.1 713.7"/>
<path d="M768.8 733.3 L795.8 717.8"/>
<path d="M772.1 746.4 L802.3 730.0"/>
<path d="M777.8 756.2 L807.2 739.0"/>
<path d="M791.7 766.8 L819.5 750.5"/>
<path d="M790.9 770.9 L825.2 752.1"/>
<path d="M805.6 772.5 L830.0 758.6"/>
<path d="M818.6 770.9 L830.0 764.4"/>
<path d="M797.4 690.0 L797.0 703.9 L792.5 704.7 L794.5 712.9 L799.0 714.5 L803.9 722.7 L803.1 730.0 L808.0 737.4 L812.9 737.4 L823.5 747.2"/>
<path d="M764.7 708.8 L762.3 721.1 L761.4 732.5 L764.7 734.1 L771.2 747.2 L776.1 757.0 L790.0 768.4 L799.0 775.0 L815.4 772.5 L819.5 774.2"/>
<path d="M758.2 704.7 C757.1 706.6 752.7 711.8 751.6 716.1 C750.5 720.5 751.1 726.4 751.6 730.9 C752.2 735.4 752.7 738.3 754.9 743.1 C757.1 747.9 761.4 755.0 764.7 759.5 C768.0 764.0 771.0 766.9 774.5 770.1 C778.1 773.2 784.0 776.9 786.0 778.3"/>
<path d="M753.3 734.1 C754.1 736.2 756.0 742.2 758.2 746.4 C760.4 750.6 763.8 755.8 766.3 759.5 C768.9 763.1 772.5 766.9 773.7 768.4"/>
<path d="M759.8 721.1 C759.9 723.5 759.5 731.0 760.6 735.8 C761.7 740.5 763.6 745.0 766.3 749.7 C769.1 754.3 773.2 759.9 777.0 763.5 C780.8 767.2 787.2 770.4 789.2 771.7"/>
<path d="M802.3 690.0 C801.9 692.0 799.7 697.8 799.8 702.3 C800.0 706.8 801.6 712.7 803.1 717.0 C804.6 721.2 806.0 723.6 808.8 727.6 C811.7 731.5 816.7 737.5 820.3 740.7 C823.8 743.8 828.4 745.4 830.0 746.4"/>
<path d="M690.1 757.6 C690.9 753.6 692.4 748.4 694.7 745.6 C697.0 742.9 700.5 741.9 703.9 741.0 C707.3 740.2 710.9 739.8 714.9 740.6 C718.9 741.3 723.7 742.9 727.8 745.6 C731.9 748.3 736.1 752.4 739.8 756.7 C743.4 760.9 747.4 766.6 749.9 771.4 C752.3 776.1 753.7 780.6 754.5 785.2 C755.2 789.8 755.2 795.1 754.5 798.9 C753.7 802.8 752.3 805.5 749.9 808.1 C747.4 810.7 742.8 813.5 739.8 814.6 C736.7 815.6 735.0 815.5 731.5 814.6 C728.0 813.7 722.9 811.8 718.6 809.1 C714.3 806.3 709.7 802.6 705.7 798.0 C701.8 793.4 697.3 786.2 694.7 781.5 C692.1 776.7 690.9 773.5 690.1 769.5 C689.3 765.5 689.3 761.6 690.1 757.6Z"/>
<path d="M693.8 747.5 C693.0 749.5 689.7 755.1 689.2 759.4 C688.7 763.7 689.8 768.9 691.0 773.2 C692.3 777.5 693.5 780.6 696.5 785.2 C699.6 789.8 705.4 796.6 709.4 800.8 C713.4 804.9 716.2 807.5 720.4 810.0 C724.7 812.4 732.7 814.6 735.2 815.5" stroke-width="1.8"/>
<path d="M694.7 753.0 L694.7 766.8"/>
<path d="M699.3 792.5 C698.7 793.1 696.1 794.4 695.6 796.2 C695.2 798.0 695.5 801.6 696.5 803.5 C697.6 805.5 699.6 807.4 702.1 808.1 C704.5 808.9 709.7 808.1 711.3 808.1"/>
<path d="M720.4 777.3 C720.9 777.0 721.8 775.5 723.2 775.0 C724.6 774.6 728.3 774.0 728.7 774.6 C729.2 775.2 727.2 778.1 726.0 778.7 C724.7 779.3 722.1 778.3 721.4 778.3"/>
<path d="M737.5 815.5 L737.5 821.9"/>
</g>
</svg>
</body></html>
